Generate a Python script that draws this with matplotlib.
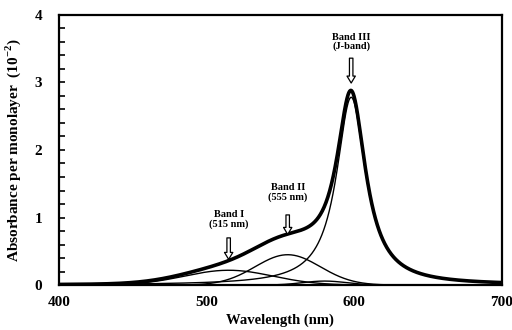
import numpy as np
import matplotlib
matplotlib.use("Agg")
import matplotlib.pyplot as plt
from matplotlib.ticker import MultipleLocator

plt.rcParams['font.family'] = ['Liberation Serif', 'DejaVu Serif']

# Band parameters (units of 10^-2 absorbance, nm)
band_centers = [515, 555, 580, 598]
band_amps = [0.22, 0.45, 0.06, 2.78]
band_widths = [30, 22, 15, 12]   # Gaussian sigma for I, II, extra; Lorentzian HWHM for III
band_labels = ["Band I\n(515 nm)", "Band II\n(555 nm)", "Band III\n(J-band)"]
label_centers = [515, 555, 598]

wl = np.linspace(400, 700, 1200)

def gauss(x, c, a, s):
    return a * np.exp(-(x - c) ** 2 / (2 * s ** 2))

def lorentz(x, c, a, g):
    return a * g ** 2 / ((x - c) ** 2 + g ** 2)

comps = [gauss(wl, band_centers[i], band_amps[i], band_widths[i]) for i in range(3)]
comps.append(lorentz(wl, band_centers[3], band_amps[3], band_widths[3]))
total = np.sum(comps, axis=0)

fig = plt.figure(figsize=(5.12, 3.3), dpi=100)
ax = fig.add_axes([0.115, 0.136, 0.865, 0.819])

for c in comps:
    ax.plot(wl, c, color='black', lw=1.0)
ax.plot(wl, total, color='black', lw=2.6)

ax.set_xlim(400, 700)
ax.set_ylim(0, 4)
ax.xaxis.set_major_locator(MultipleLocator(100))
ax.yaxis.set_major_locator(MultipleLocator(1))
ax.yaxis.set_minor_locator(MultipleLocator(0.2))
ax.tick_params(axis='y', which='both', direction='in', length=4, width=1.2, pad=12)
ax.tick_params(axis='x', length=0, pad=8)
ax.tick_params(labelsize=11)
for lab in ax.get_xticklabels() + ax.get_yticklabels():
    lab.set_fontweight('bold')
for sp in ax.spines.values():
    sp.set_linewidth(1.6)

ax.set_xlabel("Wavelength (nm)", fontsize=10.5, fontweight='bold', labelpad=3)
ax.set_ylabel("Absorbance per monolayer  (10$^{\\mathregular{-2}}$)", fontsize=11,
              fontweight='bold', labelpad=8)

# annotation text positions and hollow arrows
text_y = [0.97, 1.37, 3.6]
arrow_top = [0.74, 1.08, 3.4]
arrow_tip = [0.34, 0.71, 2.95]
for lab, xc, ty, a0, a1 in zip(band_labels, label_centers, text_y, arrow_top, arrow_tip):
    ax.text(xc, ty, lab, ha='center', va='center', fontsize=7.5, fontweight='bold',
            linespacing=1.0)
    ax.annotate("", xy=(xc, a1), xytext=(xc, a0),
                arrowprops=dict(arrowstyle='simple,head_length=0.5,head_width=0.6,tail_width=0.25',
                                fc='white', ec='black', lw=0.9))

fig.savefig("out.png", dpi=100)
